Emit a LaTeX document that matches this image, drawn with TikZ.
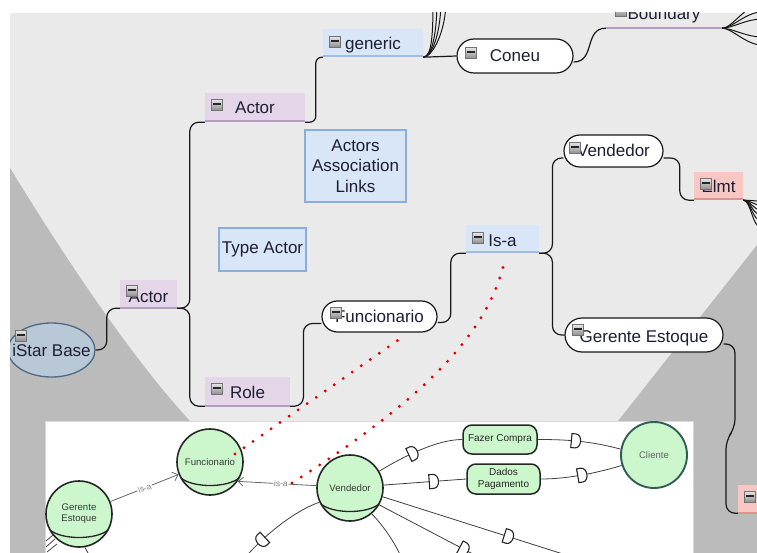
\documentclass[tikz,border=0pt]{standalone}
\usepackage{fontspec}
\setmainfont{Liberation Sans}
\usetikzlibrary{shapes.geometric, arrows.meta, decorations.markings, calc}

\definecolor{ink}{HTML}{1E1E32}
\definecolor{lightbg}{HTML}{EAEAEA}
\definecolor{darkbg}{HTML}{BBBBBB}
\definecolor{purfill}{HTML}{E4D5E8}
\definecolor{purline}{HTML}{B59DC2}
\definecolor{blufill}{HTML}{D8E6F8}
\definecolor{bluline}{HTML}{9FBCE4}
\definecolor{pinkfill}{HTML}{F7C7C4}
\definecolor{pinkline}{HTML}{E2918C}
\definecolor{notedraw}{HTML}{8AAEDC}
\definecolor{istarfill}{HTML}{B8C8D6}
\definecolor{istarline}{HTML}{4C6A84}
\definecolor{gfill}{HTML}{CCF7CC}
\definecolor{clientline}{HTML}{2F5E58}
\definecolor{dotred}{HTML}{E00000}

\tikzset{
  mtext/.style={font=\fontsize{17}{20.5}\selectfont, text=ink, inner sep=0pt, anchor=base},
  ulbox/.style 2 args={mtext, fill=#1,
    path picture={\draw[#2, line width=3pt] (path picture bounding box.south west) -- (path picture bounding box.south east);}},
  purbox/.style={ulbox={purfill}{purline}},
  blubox/.style={ulbox={blufill}{bluline}},
  pinkbox/.style={ulbox={pinkfill}{pinkline}},
  pill/.style={mtext, draw=black!90, line width=1.2pt, fill=white, rounded corners=#1},
  notebox/.style={draw=notedraw, fill=blufill, line width=1.5pt, inner sep=0pt,
    font=\fontsize{17}{20.5}\selectfont, text=ink, align=center},
  mlink/.style={draw=black!90, line width=1.2pt, rounded corners=9pt},
  fanlink/.style={draw=black!90, line width=1pt},
  tog/.pic={
    \draw[draw=black!55, top color=black!10, bottom color=black!45, line width=0.6pt]
      (-5.5,-5.5) rectangle (5.5,5.5);
    \draw[black!85, line width=1.5pt] (-3.6,-1) -- (3.6,-1);
  },
  gcircle/.style={circle, draw=black!85, line width=1.6pt, fill=gfill, minimum size=66pt,
    inner sep=0pt, font=\fontsize{9.6}{11}\selectfont, text=black!78, align=center},
  ggoal/.style={rectangle, rounded corners=9pt, draw=black!85, line width=1.5pt, fill=gfill,
    inner sep=0pt, font=\fontsize{10}{11.5}\selectfont, text=black!85, align=center},
  isalink/.style={draw=black!60, line width=0.8pt, -{Straight Barb[length=5pt,width=9pt]}},
  isalabel/.style={font=\fontsize{8.5}{9}\selectfont, text=black!50, fill=white, inner sep=0.8pt, sloped},
  deplink/.style={draw=black!75, line width=0.8pt},
  dep/.style={postaction={decorate, decoration={markings, mark=at position #1 with {
    \filldraw[fill=white, draw=black!85, line width=1.1pt]
      (-4,-7) -- (0,-7) .. controls (7,-7) and (7,7) .. (0,7) -- (-4,7) -- cycle;}}}},
  reddots/.style={draw=dotred, line width=3.2pt, line cap=round, dash pattern=on 0pt off 11pt}
}

\begin{document}
\begin{tikzpicture}[x=1pt, y=-1pt]
\useasboundingbox (0,0) rectangle (757,553);

% canvas and shaded side regions
\fill[white] (0,0) rectangle (757,553);
\fill[lightbg] (10,13) rectangle (757,553);
\fill[darkbg] (10,168) .. controls (45,225) and (120,345) .. (190,421) -- (45,421) -- (45,553) -- (10,553) -- cycle;
\fill[darkbg] (757,245) -- (618,421) -- (693,421) -- (693,553) -- (757,553) -- cycle;

% ---------------- mind map ----------------
\begin{scope}
\clip (10,13) rectangle (757,553);

\node[ellipse, draw=istarline, fill=istarfill, line width=1.3pt, minimum width=87pt, minimum height=54pt,
      inner sep=0pt] (istar) at (51.5,350) {};
\node[font=\fontsize{17}{20.5}\selectfont, text=ink, inner sep=0pt] (istartext) at (istar.center) {iStar Base};

\node[purbox, minimum width=57pt, text height=22pt, text depth=6pt] (actorA) at (148.5,302) {Actor};
\node[purbox, minimum width=100pt, text height=21pt, text depth=8pt] (actorB) at (255,114) {Actor};
\node[purbox, minimum width=85pt, text height=21pt, text depth=8pt] (role) at (247.5,398) {Role};
\node[blubox, minimum width=100pt, text height=21pt, text depth=7pt] (generic) at (373,50) {generic};
\node[pill=17pt, minimum width=116pt, text height=23pt, text depth=11pt] (coneu) at (515,62) {Coneu};
\node[mtext, minimum width=116pt, text height=21pt, text depth=8pt] (boundary) at (664,20) {Boundary};
\node[pill=16pt, minimum width=99pt, text height=22pt, text depth=10pt] (vendedor) at (613.5,157) {Vendedor};
\node[pinkbox, minimum width=49pt, text height=21pt, text depth=7pt] (elmt) at (718.5,193) {Elmt};
\node[blubox, minimum width=73pt, text height=22pt, text depth=6pt] (isa) at (502.5,247) {Is-a};
\node[pill=15.5pt, minimum width=115pt, text height=21pt, text depth=10pt] (func) at (379.5,322) {Funcionario};
\node[pill=17pt, minimum width=158pt, text height=24pt, text depth=10pt] (gerente) at (644,342) {Gerente Estoque};
\node[pinkbox, minimum width=25pt, text height=22pt, text depth=6pt] (pinkbr) at (750.5,507) {};

\node[notebox, minimum width=101pt, minimum height=72pt] (aal) at (355.5,166) {Actors\\Association\\Links};
\node[notebox, minimum width=87pt, minimum height=43pt] (typeact) at (262.5,249.5) {Type Actor};

% underline of the Boundary topic
\draw[purline, line width=2pt] (boundary.south west) -- (boundary.south east);

% branches
\draw[mlink] (istar.east) -| ([xshift=-13pt]actorA.south west) -- (actorA.south west);
\draw[mlink] (actorA.south east) -| ([xshift=-15pt]actorB.south west) -- (actorB.south west);
\draw[mlink] (actorA.south east) -| ([xshift=-15pt]role.south west) -- (role.south west);
\draw[mlink, rounded corners=6pt] (actorB.south east) -| ([xshift=-7pt]generic.south west) -- (generic.south west);
\draw[mlink] (generic.south east) -- (coneu.west);
\draw[mlink] ([yshift=-6pt]coneu.east) .. controls +(22,0) and +(-22,0) .. (boundary.south west);
\draw[mlink] (role.south east) -| ([xshift=-18pt,yshift=-7pt]func.west) -- ([yshift=-7pt]func.west);
\draw[mlink] ([yshift=-6pt]func.east) -| ([xshift=-15pt]isa.south west) -- (isa.south west);
\draw[mlink] (isa.south east) -| ([xshift=-11pt,yshift=-7pt]vendedor.west) -- ([yshift=-7pt]vendedor.west);
\draw[mlink] (isa.south east) -| ([xshift=-12pt]gerente.west) -- (gerente.west);
\draw[mlink] ([yshift=-7pt]vendedor.east) -| ([xshift=-14pt]elmt.south west) -- (elmt.south west);
\coordinate (kinkA) at (735,428);
\coordinate (kinkB) at (726,440);
\draw[mlink] ([yshift=-9pt]gerente.east) -| (kinkA) -- (kinkB) |- (pinkbr.south west);

% collapsed sub-branches leaving the canvas
\coordinate (gf1) at (433,0);
\coordinate (gf2) at (437,0);
\coordinate (gf3) at (441,0);
\coordinate (gf4) at (446,0);
\foreach \e in {gf1,gf2,gf3,gf4}
  \draw[fanlink] (generic.south east) .. controls +(9,0) and +(0,32) .. (\e);
\coordinate (bf1) at (762,4);
\coordinate (bf2) at (762,12);
\coordinate (bf3) at (762,19);
\coordinate (bf4) at (762,37);
\coordinate (bf5) at (762,45);
\foreach \e in {bf1,bf2,bf3,bf4,bf5}
  \draw[fanlink] (boundary.south east) .. controls +(10,0) and +(-16,0) .. (\e);
\coordinate (ef1) at (762,201);
\coordinate (ef2) at (762,205);
\coordinate (ef3) at (762,210);
\coordinate (ef4) at (762,215);
\coordinate (ef5) at (762,221);
\coordinate (ef6) at (762,228);
\foreach \e in {ef1,ef2,ef3,ef4,ef5,ef6}
  \draw[fanlink] (elmt.south east) .. controls +(8,0) and +(-10,0) .. (\e);

% collapse toggles
\pic at (21,336) {tog};
\pic at (132,291) {tog};
\pic at (217,105) {tog};
\pic at (217,389) {tog};
\pic at (335,42) {tog};
\pic at (471,53) {tog};
\pic at (621,11) {tog};
\pic at (575,148) {tog};
\pic at (706,184) {tog};
\pic at (478,238) {tog};
\pic at (336,313) {tog};
\pic at (578,330) {tog};
\pic at (750,497) {tog};
\end{scope}

% ---------------- iStar model excerpt ----------------
\filldraw[fill=white, draw=black!15] (45,421) rectangle (693,553);
\begin{scope}
\clip (45,421) rectangle (693,553);

\node[gcircle] (lfunc) at (210,462) {Funcionario};
\node[gcircle] (lgerente) at (79,514) {Gerente\\Estoque};
\node[gcircle] (lvend) at (350,488) {Vendedor};
\node[gcircle, draw=clientline, line width=1.9pt, text=black!60] (lcliente) at (654,455) {Cliente};
\node[ggoal, minimum width=74pt, minimum height=29pt] (lfazer) at (500,439.5) {Fazer Compra};
\node[ggoal, minimum width=73pt, minimum height=30pt] (ldados) at (503.5,479) {Dados\\Pagamento};

% role markers
\foreach \n in {lfunc,lgerente,lvend}
  \draw[black!85, line width=1.3pt] ($(\n.center)+(-29,16)$) .. controls +(12,10) and +(-12,10) .. ($(\n.center)+(29,16)$);

% is-a links
\draw[isalink] (lgerente) -- node[isalabel] (lisa1) {is-a} (lfunc);
\draw[isalink] (lvend.176) -- node[isalabel, pos=0.45] (lisa2) {is-a} (lfunc.-35);

% dependencies
\draw[deplink, dep=0.42] (lvend.30) .. controls +(25,-15) and +(-25,0) .. (lfazer.west);
\draw[deplink, dep=0.45] (lfazer.east) .. controls +(30,0) and +(-30,-8) .. (lcliente.170);
\draw[deplink, dep=0.6] (lvend.5) -- (ldados.west);
\draw[deplink, dep=0.5] (ldados.east) .. controls +(30,0) and +(-20,6) .. (lcliente.198);
\coordinate (de1) at (585,561);
\coordinate (de2) at (490,563);
\coordinate (de3) at (403,562);
\coordinate (de4) at (242,562);
\coordinate (de5) at (93,562);
\draw[deplink, dep=0.62] (lvend.-15) -- (de1);
\draw[deplink, dep=0.76] (lvend.-30) -- (de2);
\draw[deplink] (lvend.-50) .. controls +(12,12) and +(-5,-15) .. (de3);
\draw[deplink, dep=0.7] (lvend.205) .. controls +(-30,10) and +(10,-15) .. (de4);
\draw[deplink] (lgerente.-80) -- (de5);
\draw[black!70, line width=0.8pt] (46,541) -- (53,535) (46,547) -- (55,539) (47,552) -- (57,544);
\end{scope}

% trace links between the two views
\coordinate (dotA) at (292,483);
\coordinate (dotB) at (235,454);
\draw[reddots] (dotA) .. controls (430,395) and (490,330) .. ([xshift=3pt,yshift=-4pt]isa.south);
\draw[reddots] (dotB) -- ([xshift=25pt,yshift=-3pt]func.south);
\end{tikzpicture}
\end{document}
